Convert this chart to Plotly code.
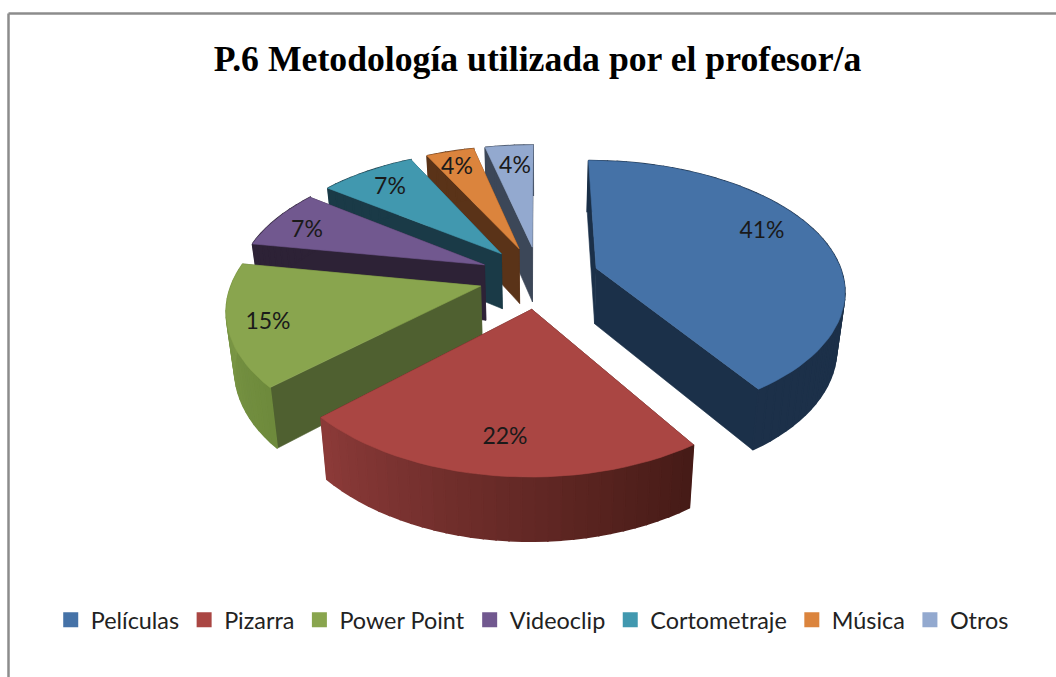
import math
import plotly.graph_objects as go

# Data
categories = ["Películas", "Pizarra", "Power Point", "Videoclip", "Cortometraje", "Música", "Otros"]
values = [40.7, 22.2, 14.8, 7.4, 7.4, 3.7, 3.7]
title_text = "P.6 Metodología utilizada por el profesor/a"

# Styles
top_colors = ["#4572A7", "#AA4643", "#89A54E", "#71588F", "#4198AF", "#DB843D", "#93A9CF"]
cut_colors = ["#1B3049", "#451B17", "#4F6030", "#2D2236", "#1A3A47", "#5A3318", "#3C4758"]
wall_start = ["#1A2F47", "#451A16", "#6E8A3C", "#2D2236", "#1A3A47", "#5A3318", "#3C4758"]
wall_end = ["#1C3049", "#8C3B39", "#7E9A48", "#2D2236", "#1A3A47", "#5A3318", "#3C4758"]
draw_order = [6, 5, 4, 3, 2, 0, 1]
label_xy = [(762, 232), (505, 438), (268, 323), (307, 231), (390, 188), (457, 168), (515, 167)]

# Geometry of the projected pie, in page pixels
CX, CY, RX, RY, KX, KY, EXPLODE, DEPTH, TAPER = 539.0, 277.0, 247.0, 128.0, 0.155, 0.165, 0.244, 56.0, 0.973


def project(X, Y, lower=False):
    px = 1.0 / (1.0 - KX * Y)
    py = 1.0 / (1.0 - KY * Y)
    sx = RX * X * px
    sy = CY + RY * Y * py
    if lower:
        sx *= TAPER
        sy += DEPTH * py ** 0.6
    return CX + sx, sy


def mix(a, b, t):
    ca = [int(a[i:i + 2], 16) for i in (1, 3, 5)]
    cb = [int(b[i:i + 2], 16) for i in (1, 3, 5)]
    return "#%02x%02x%02x" % tuple(round(u + (v - u) * t) for u, v in zip(ca, cb))


fig = go.Figure()


def poly(pts, color, width=0.6):
    fig.add_trace(go.Scatter(
        x=[p[0] for p in pts] + [pts[0][0]], y=[p[1] for p in pts] + [pts[0][1]],
        mode="lines", fill="toself", fillcolor=color,
        line=dict(color=color, width=width), showlegend=False, hoverinfo="skip"))


total = sum(values)
spans, acc = [], 0.0
for v in values:
    spans.append((acc / total * 360.0, (acc + v) / total * 360.0))
    acc += v

for i in draw_order:
    a0, a1 = spans[i]
    mid = math.radians((a0 + a1) / 2)
    ox, oy = EXPLODE * math.sin(mid), -EXPLODE * math.cos(mid)

    def rim(deg):
        t = math.radians(deg)
        return ox + math.sin(t), oy - math.cos(t)

    n = max(3, int((a1 - a0) / 2.5))
    angles = [a0 + (a1 - a0) * j / n for j in range(n + 1)]
    tip = (ox, oy)
    # cut walls
    for deg in (a1, a0):
        R = rim(deg)
        poly([project(*tip), project(*R), project(*R, lower=True), project(*tip, lower=True)], cut_colors[i])
    # outer wall
    for j in range(n):
        A, B = rim(angles[j]), rim(angles[j + 1])
        poly([project(*A), project(*B), project(*B, lower=True), project(*A, lower=True)],
             mix(wall_start[i], wall_end[i], (j + 0.5) / n), width=1.6)
    # top face
    poly([project(*tip)] + [project(*rim(d)) for d in angles], top_colors[i])

# percentage labels
fig.add_trace(go.Scatter(
    x=[p[0] for p in label_xy], y=[p[1] for p in label_xy], mode="text",
    text=[f"{round(v / total * 100)}%" for v in values],
    textfont=dict(family="Lato", size=23, color="#1a1a1a"),
    showlegend=False, hoverinfo="skip"))

# legend entries
for name, color in zip(categories, top_colors):
    fig.add_trace(go.Scatter(x=[None], y=[None], mode="markers", name=name,
                             marker=dict(symbol="square", size=15, color=color)))

fig.update_layout(
    width=1056, height=677, autosize=False,
    margin=dict(l=0, r=0, t=0, b=0),
    paper_bgcolor="white", plot_bgcolor="white",
    xaxis=dict(range=[0, 1056], visible=False, fixedrange=True),
    yaxis=dict(range=[677, 0], visible=False, fixedrange=True),
    title=dict(text=f"<b>{title_text}</b>", x=0.509, xanchor="center", y=0.914, yanchor="middle",
               font=dict(family="Liberation Serif", size=35.7, color="black")),
    legend=dict(orientation="h", x=0.504, xanchor="center", y=0.084, yanchor="middle",
                font=dict(family="Lato", size=23.4, color="#222222"),
                itemwidth=30, bgcolor="rgba(0,0,0,0)"),
    shapes=[
        dict(type="line", xref="paper", yref="paper", x0=8.5 / 1056, x1=8.5 / 1056, y0=0, y1=1 - 13.5 / 677,
             line=dict(color="#8c8c8c", width=2.5)),
        dict(type="line", xref="paper", yref="paper", x0=8.5 / 1056, x1=1, y0=1 - 13.5 / 677, y1=1 - 13.5 / 677,
             line=dict(color="#8c8c8c", width=2.5)),
    ],
)
fig.write_html("out.html", config={"displayModeBar": False},
               post_script="document.body.style.margin='0';document.body.style.overflow='hidden';")
